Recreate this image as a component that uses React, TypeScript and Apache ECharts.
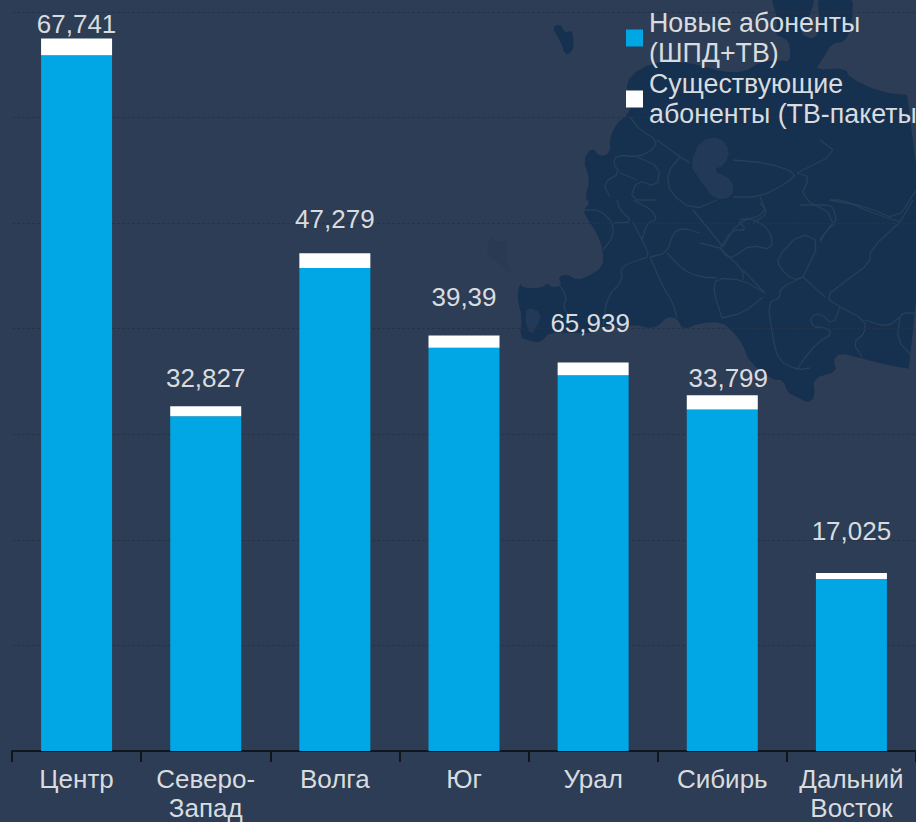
import React, { useEffect, useRef } from "react";
import * as echarts from "echarts";

const categories = ["Центр", "Северо-\nЗапад", "Волга", "Юг", "Урал", "Сибирь", "Дальний\nВосток"];
const newSubscribers = [65.9, 31.7, 45.75, 38.2, 35.6, 32.35, 16.3];
const existingSubscribers = [1.6, 0.95, 1.4, 1.15, 1.2, 1.35, 0.57];
const totalLabels = ["67,741", "32,827", "47,279", "39,39", "65,939", "33,799", "17,025"];
const seriesNames = ["Новые абоненты\n(ШПД+ТВ)", "Существующие\nабоненты (ТВ-пакеты"];

// Decorative backdrop only (page pixels)
const labelOffsets = [[0, -1], [0, -15], [0, -21], [0, -26], [-3, -26], [6, -4], [0, -29]];

const land: number[][][] = [
  [[640,68],[667,60],[700,65],[722,72],[745,72],[760,62],[780,60],[790,62],[790,45],[785,38],[775,35],[778,20],[770,-6],[815,-6],[812,10],[805,25],[800,34],[815,40],[820,25],[817,-6],[853,-6],[852,25],[845,42],[832,43],[822,60],[815,70],[845,68],[850,78],[880,92],[916,96],
   [916,370],[887,365],[860,358],[840,353],[833,360],[837,372],[813,378],[815,397],[808,403],[797,397],[788,393],[783,380],[773,380],[750,363],[742,343],[733,332],[722,322],[700,323],[683,330],[677,318],[667,317],[657,327],[647,328],[637,325],[603,326],[593,333],[570,333],[550,332],[540,343],[527,340],[520,337],[522,317],[517,297],[520,283],[523,288],[542,288],[547,283],[553,288],[562,285],[558,277],[567,274],[577,280],[587,277],[603,267],[603,250],[597,233],[588,220],[583,210],[590,203],[585,197],[590,180],[583,160],[592,147],[600,157],[610,153],[610,137],[617,123],[628,115],[632,100],[625,83]],
  [[552,27],[560,24],[565,33],[572,30],[574,43],[572,52],[565,55],[560,40]],
];
const lighterPatches: number[][][] = [
  [[700,140],[720,137],[730,150],[725,165],[712,170],[733,180],[733,197],[715,200],[700,180],[690,165]],
  [[527,307],[542,313],[537,327],[530,335],[525,320]],
];
const faintPatches: number[][][] = [
  [[490,235],[497,243],[508,240],[505,258],[513,275],[502,265],[486,255]],
];
const borders: number[][][] = [
  [[900,222],[870,250],[870,263],[847,280],[825,297],[840,307],[865,320],[865,333],[853,343],[862,357]],
  [[900,222],[913,200]],
  [[900,222],[870,212],[843,200],[830,200]],
  [[803,277],[825,297]],
  [[803,277],[820,242],[800,233],[777,258],[780,268],[793,280],[803,277]],
  [[820,242],[827,230],[837,222],[833,207],[827,205],[800,205]],
  [[803,277],[780,288],[780,298],[768,303],[772,333],[778,360],[797,370],[810,368]],
  [[797,370],[803,360],[817,343],[833,333],[823,327],[813,327],[810,317],[820,313],[833,325],[840,307]],
  [[765,293],[743,280],[717,278],[713,290],[722,318]],
  [[722,318],[743,313],[763,297]],
  [[720,248],[743,270],[743,280]],
  [[720,248],[700,243]],
  [[720,248],[732,230],[747,230],[737,220],[752,218],[770,230],[773,250],[750,245],[737,255],[728,258],[720,248]],
  [[743,270],[765,293]],
  [[753,223],[768,213],[760,203]],
  [[900,317],[903,313],[916,313]],
  [[900,317],[897,340],[913,357]],
  [[865,320],[887,327],[900,317]],
  [[583,210],[600,210],[613,223],[613,237],[603,250]],
  [[613,223],[633,222],[620,210],[617,200]],
  [[633,222],[642,240],[650,257],[637,260],[620,268],[623,280],[607,297],[603,326]],
  [[650,257],[667,253],[673,233],[683,228],[700,233]],
  [[642,240],[647,223],[657,220],[652,210],[633,200]],
  [[650,257],[663,287],[673,303],[677,318]],
  [[667,253],[683,270],[700,277],[717,278]],
  [[558,283],[567,297],[563,307],[570,317]],
  [[630,117],[640,130],[657,140],[653,150],[637,157],[617,155],[613,163],[620,173],[603,183],[610,197]],
  [[657,140],[680,157],[690,163]],
  [[637,157],[660,167],[657,187],[637,180],[630,200],[657,200]],
  [[620,173],[637,180]],
  [[680,157],[667,173],[670,193],[693,210],[717,200]],
  [[733,160],[767,163],[797,173],[787,183],[760,197],[733,197]],
  [[797,173],[837,153],[820,140]],
  [[797,173],[810,177],[800,197],[837,217],[820,240]],
  [[830,200],[867,207],[897,220],[916,190]],
  [[760,197],[767,213],[737,223],[723,247]],
  [[693,210],[707,227],[723,247]],
];

// One round of corner cutting, so the hand-traced outlines look less angular.
function soften(points: number[][], closed: boolean): number[][] {
  const out: number[][] = [];
  const n = points.length;
  if (!closed) out.push(points[0]);
  for (let i = 0; i < (closed ? n : n - 1); i++) {
    const a = points[i];
    const b = points[(i + 1) % n];
    out.push([a[0] * 0.75 + b[0] * 0.25, a[1] * 0.75 + b[1] * 0.25]);
    out.push([a[0] * 0.25 + b[0] * 0.75, a[1] * 0.25 + b[1] * 0.75]);
  }
  if (!closed) out.push(points[n - 1]);
  return out;
}

export default function App() {
  const ref = useRef<HTMLDivElement>(null);
  useEffect(() => {
    if (!ref.current) return;
    const chart = echarts.init(ref.current, undefined, { renderer: "svg" });
    const graphic: any[] = [
      ...faintPatches.map((p) => ({ type: "polygon", silent: true, z: -10, shape: { points: soften(p, true) }, style: { fill: "#2a3a52" } })),
      ...land.map((p) => ({ type: "polygon", silent: true, z: -10, shape: { points: soften(p, true) }, style: { fill: "#16304f" } })),
      ...lighterPatches.map((p) => ({ type: "polygon", silent: true, z: -9, shape: { points: soften(p, true) }, style: { fill: "#223a57" } })),
      ...borders.map((p) => ({ type: "polyline", silent: true, z: -8, shape: { points: soften(p, false) }, style: { stroke: "#263f5a", lineWidth: 1.3, fill: "none" } })),
    ];
    chart.setOption({
      animation: false,
      backgroundColor: "#2d3d55",
      textStyle: { fontFamily: "Liberation Sans" },
      graphic,
      grid: { left: 12, top: 12, width: 904, height: 739, containLabel: false, outerBoundsMode: "none" },
      legend: {
        show: true,
        left: 626,
        top: 8,
        padding: 0,
        orient: "vertical",
        itemWidth: 17,
        itemHeight: 17,
        itemGap: 1,
        icon: "rect",
        selectedMode: false,
        textStyle: { color: "#d9dcdf", fontSize: 26.8, lineHeight: 30, padding: [0, 0, 0, 1] },
        data: seriesNames,
      },
      xAxis: {
        type: "category",
        data: categories,
        axisLine: { lineStyle: { color: "#11161e", width: 2 } },
        axisTick: { show: true, length: 11, alignWithLabel: false, lineStyle: { color: "#11161e", width: 2 } },
        axisLabel: { interval: 0, color: "#d9dcdf", fontSize: 26, lineHeight: 29, margin: 13, hideOverlap: false },
      },
      yAxis: {
        type: "value",
        min: 0,
        max: 70,
        interval: 10,
        axisLine: { show: false },
        axisTick: { show: false },
        axisLabel: { show: false },
        splitLine: { show: true, lineStyle: { color: "#253349", width: 1.2, type: [3, 2] } },
      },
      series: [
        { type: "bar", name: seriesNames[0], stack: "t", barWidth: 71, itemStyle: { color: "#00a7e4" }, data: newSubscribers },
        {
          type: "bar",
          name: seriesNames[1],
          stack: "t",
          barWidth: 71,
          itemStyle: { color: "#ffffff" },
          data: existingSubscribers.map((value, i) => ({
            value,
            label: { show: true, position: "top", distance: 0, offset: labelOffsets[i], formatter: totalLabels[i], color: "#d9dcdf", fontSize: 26 },
          })),
        },
      ],
    });
    return () => chart.dispose();
  }, []);
  return <div ref={ref} style={{ position: "absolute", left: 0, top: 0, width: 916, height: 822, overflow: "hidden" }} />;
}
